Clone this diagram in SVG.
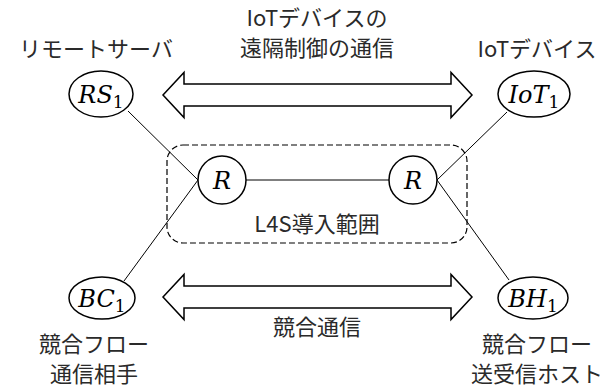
<svg xmlns="http://www.w3.org/2000/svg" width="613" height="390" viewBox="0 0 613 390">
<style>
.t{font-family:"Noto Sans CJK JP","Noto Sans",sans-serif;font-size:22px;fill:#2a2a2a;text-anchor:middle}
.m{font-family:"DejaVu Serif","Liberation Serif",serif;font-style:italic;font-size:24px;fill:#000;text-anchor:middle}
.s{font-family:"DejaVu Serif","Liberation Serif",serif;font-style:normal;font-size:17px}
.n{fill:#fff;stroke:#000;stroke-width:1.5}
.l{stroke:#000;stroke-width:1;fill:none}
.a{fill:#fff;stroke:#000;stroke-width:1.5;stroke-linejoin:miter}
</style>
<rect width="613" height="390" fill="#fff"/>
<g id="connectors">
<line class="l" x1="128" y1="111" x2="198" y2="180"/>
<line class="l" x1="198" y1="180" x2="124" y2="281"/>
<line class="l" x1="246" y1="180" x2="389" y2="180"/>
<line class="l" x1="437" y1="180" x2="507" y2="112"/>
<line class="l" x1="437" y1="180" x2="509" y2="280"/>
<path class="a" d="M163,95 L184,72.5 L184,84 L451,84 L451,72.5 L472,95 L451,117.5 L451,106 L184,106 L184,117.5 Z"/>
<path class="a" d="M163,297 L184,274.5 L184,286 L451,286 L451,274.5 L472,297 L451,319.5 L451,308 L184,308 L184,319.5 Z"/>
</g>
<g id="l4s-area">
<rect x="167" y="145" width="300" height="98" rx="16" fill="none" stroke="#000" stroke-width="1.2" stroke-dasharray="6,3"/>
<text class="t" x="317" y="232">L4S導入範囲</text>
</g>
<g id="RS1">
<ellipse class="n" cx="101" cy="94" rx="32" ry="23"/>
<text class="m" x="101" y="103">RS<tspan class="s" dy="5">1</tspan></text>
<text class="t" x="96" y="57">リモートサーバ</text>
</g>
<g id="IoT1">
<ellipse class="n" cx="534" cy="94" rx="36" ry="23"/>
<text class="m" x="534" y="103">IoT<tspan class="s" dy="5">1</tspan></text>
<text class="t" x="537" y="57">IoTデバイス</text>
</g>
<g id="BC1">
<ellipse class="n" cx="102" cy="298" rx="33" ry="21"/>
<text class="m" x="102" y="307">BC<tspan class="s" dy="5">1</tspan></text>
<text class="t" x="94" y="352">競合フロー</text>
<text class="t" x="94" y="382">通信相手</text>
</g>
<g id="BH1">
<ellipse class="n" cx="533" cy="298" rx="35" ry="21"/>
<text class="m" x="533" y="307">BH<tspan class="s" dy="5">1</tspan></text>
<text class="t" x="537" y="352">競合フロー</text>
<text class="t" x="537" y="382">送受信ホスト</text>
</g>
<g id="R-left">
<circle class="n" cx="222" cy="180" r="24"/>
<text class="m" x="222" y="189">R</text>
</g>
<g id="R-right">
<circle class="n" cx="413" cy="180" r="24"/>
<text class="m" x="413" y="189">R</text>
</g>
<g id="labels">
<text class="t" x="317" y="26">IoTデバイスの</text>
<text class="t" x="317" y="56">遠隔制御の通信</text>
<text class="t" x="317" y="335">競合通信</text>
</g>
</svg>
